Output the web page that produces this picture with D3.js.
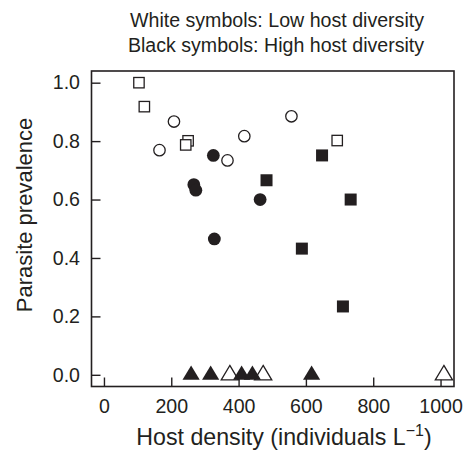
<!DOCTYPE html>
<html>
<head>
<meta charset="utf-8">
<script src="https://cdnjs.cloudflare.com/ajax/libs/d3/7.8.5/d3.min.js"></script>
<style>
  body { margin: 0; background: #fff; }
  text { font-family: "Liberation Sans", Arial, sans-serif; fill: #231f20; }
</style>
</head>
<body>
<script>
// host density (individuals per litre) and parasite prevalence
var openSquareX = [104, 120, 250, 243, 693];
var openSquareY = [1.0, 0.918, 0.801, 0.787, 0.802];
var openCircleX = [208, 165, 367, 417, 557];
var openCircleY = [0.867, 0.769, 0.734, 0.817, 0.885];
var openTriangleX = [374, 473, 1010];
var openTriangleY = [0, 0, 0];

var filledCircleX = [325, 267, 273, 464, 328];
var filledCircleY = [0.751, 0.651, 0.632, 0.60, 0.465];
var filledSquareX = [483, 648, 733, 588, 710];
var filledSquareY = [0.666, 0.751, 0.60, 0.432, 0.234];
var filledTriangleX = [259, 317, 409, 441, 617];
var filledTriangleY = [0, 0, 0, 0, 0];

var xTicks = [0, 200, 400, 600, 800, 1000];
var yTicks = [0.0, 0.2, 0.4, 0.6, 0.8, 1.0];

var ink = "#231f20";

var svg = d3.select("body").append("svg")
    .attr("width", 470)
    .attr("height", 454);

var x = d3.scaleLinear().domain([-37, 1040]).range([91.5, 454]);
var y = d3.scaleLinear().domain([-0.04, 1.04]).range([386.5, 71]);

// titles
svg.append("text").attr("x", 277).attr("y", 27).attr("text-anchor", "middle")
    .style("font-size", "19.6px").text("White symbols: Low host diversity");
svg.append("text").attr("x", 276).attr("y", 52).attr("text-anchor", "middle")
    .style("font-size", "19.6px").text("Black symbols: High host diversity");

// axes
var xAxis = svg.append("g")
    .attr("transform", "translate(0,386.5)")
    .call(d3.axisBottom(x).tickValues(xTicks).tickFormat(d3.format("d"))
        .tickSizeInner(-9).tickSizeOuter(0).tickPadding(12.5));
var yAxis = svg.append("g")
    .attr("transform", "translate(91.5,0)")
    .call(d3.axisLeft(y).tickValues(yTicks).tickFormat(d3.format(".1f"))
        .tickSizeInner(-9).tickSizeOuter(0).tickPadding(11.5));

[xAxis, yAxis].forEach(function(g) {
    g.select(".domain").remove();
    g.selectAll(".tick line").attr("stroke", ink).attr("stroke-width", 1.4);
    g.selectAll(".tick text").style("font-size", "19.6px").attr("fill", ink)
        .style("font-family", "'Liberation Sans', Arial, sans-serif");
});

svg.append("rect")
    .attr("x", 91.5).attr("y", 71)
    .attr("width", 454 - 91.5).attr("height", 386.5 - 71)
    .attr("fill", "none").attr("stroke", ink).attr("stroke-width", 1.6);

// axis titles
var xt = svg.append("text").attr("x", 284).attr("y", 445).attr("text-anchor", "middle")
    .style("font-size", "23.2px");
xt.append("tspan").text("Host density (individuals L");
xt.append("tspan").attr("dy", -9).style("font-size", "16px").text("\u22121");
xt.append("tspan").attr("dy", 9).text(")");

svg.append("text")
    .attr("transform", "translate(32,215) rotate(-90)")
    .attr("text-anchor", "middle")
    .style("font-size", "22px")
    .text("Parasite prevalence");

// symbols
function pairs(xs, ys) {
    return xs.map(function(d, i) { return [d, ys[i]]; });
}

var triPath = "M0,-9.4L8.6,5L-8.6,5Z";
var plot = svg.append("g");

plot.selectAll(".osq").data(pairs(openSquareX, openSquareY)).enter().append("rect")
    .attr("x", function(d) { return x(d[0]) - 5.2; })
    .attr("y", function(d) { return y(d[1]) - 5.2; })
    .attr("width", 10.4).attr("height", 10.4)
    .attr("fill", "#fff").attr("stroke", ink).attr("stroke-width", 1.3);

plot.selectAll(".oci").data(pairs(openCircleX, openCircleY)).enter().append("circle")
    .attr("cx", function(d) { return x(d[0]); })
    .attr("cy", function(d) { return y(d[1]); })
    .attr("r", 5.7)
    .attr("fill", "#fff").attr("stroke", ink).attr("stroke-width", 1.3);

plot.selectAll(".otr").data(pairs(openTriangleX, openTriangleY)).enter().append("path")
    .attr("transform", function(d) { return "translate(" + x(d[0]) + "," + y(d[1]) + ")"; })
    .attr("d", triPath)
    .attr("fill", "#fff").attr("stroke", ink).attr("stroke-width", 1.3);

plot.selectAll(".fci").data(pairs(filledCircleX, filledCircleY)).enter().append("circle")
    .attr("cx", function(d) { return x(d[0]); })
    .attr("cy", function(d) { return y(d[1]); })
    .attr("r", 6.4)
    .attr("fill", ink);

plot.selectAll(".fsq").data(pairs(filledSquareX, filledSquareY)).enter().append("rect")
    .attr("x", function(d) { return x(d[0]) - 6; })
    .attr("y", function(d) { return y(d[1]) - 6; })
    .attr("width", 12).attr("height", 12)
    .attr("fill", ink);

plot.selectAll(".ftr").data(pairs(filledTriangleX, filledTriangleY)).enter().append("path")
    .attr("transform", function(d) { return "translate(" + x(d[0]) + "," + y(d[1]) + ")"; })
    .attr("d", triPath)
    .attr("fill", ink);
</script>
</body>
</html>
